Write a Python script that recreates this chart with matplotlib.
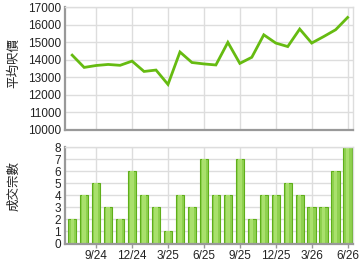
import matplotlib
matplotlib.use("Agg")
import matplotlib.pyplot as plt
import numpy as np

months = ["7/24","8/24","9/24","10/24","11/24","12/24","1/25","2/25","3/25","4/25","5/25","6/25",
          "7/25","8/25","9/25","10/25","11/25","12/25","1/26","2/26","3/26","4/26","5/26","6/26"]
avg_price = [14270, 13570, 13680, 13740, 13690, 13930, 13340, 13420, 12600, 14450, 13850, 13770,
             13710, 15000, 13800, 14150, 15430, 14960, 14760, 15760, 14960, 15330, 15720, 16420]
deals = [2, 4, 5, 3, 2, 6, 4, 3, 1, 4, 3, 7, 4, 4, 7, 2, 4, 4, 5, 4, 3, 3, 6, 8]
tick_labels = ["9/24", "12/24", "3/25", "6/25", "9/25", "12/25", "3/26", "6/26"]

plt.rcParams['font.family'] = ['Liberation Sans', 'DejaVu Sans']
cjk = ['Noto Sans CJK TC', 'DejaVu Sans']

x = np.arange(len(months))
tick_pos = [months.index(t) for t in tick_labels]

fig = plt.figure(figsize=(3.6, 2.7), dpi=100)
W, H = 360, 270
def rect(l, t, r, b):
    return [l / W, 1 - b / H, (r - l) / W, (b - t) / H]

ax1 = fig.add_axes(rect(65, 7.3, 353, 130))
ax2 = fig.add_axes(rect(65, 147.3, 353, 243.5))

grid_c = '#dddddd'
spine_c = '#999999'
for ax in (ax1, ax2):
    ax.set_xlim(-0.6, 23.45)
    ax.set_xticks(tick_pos)
    ax.grid(True, color=grid_c, linewidth=1.0)
    ax.set_axisbelow(True)
    for s in ('top', 'right'):
        ax.spines[s].set_color(grid_c)
        ax.spines[s].set_linewidth(1.0)
    for s in ('left', 'bottom'):
        ax.spines[s].set_color(spine_c)
        ax.spines[s].set_linewidth(1.6)
    ax.tick_params(axis='y', length=0, labelsize=8.5, pad=3, colors='#222222')

ax1.plot(x, avg_price, color='#66bb11', linewidth=2.0, solid_joinstyle='miter')
ax1.set_ylim(10000, 17000)
ax1.set_yticks(range(10000, 17001, 1000))
ax1.tick_params(axis='x', length=0, labelbottom=False)
ax1.set_ylabel('平均呎價', fontsize=9, family=cjk, color='#222222')
ax1.yaxis.set_label_coords((20 - 65) / 288, (130 - 63) / 122.7)

ax2.bar(x, deals, width=0.7, color='#8fd14f', edgecolor='#5fae1a', linewidth=0.8)
ax2.bar(x, deals, width=0.28, color='#a9e06c', linewidth=0)
ax2.set_ylim(0, 8)
ax2.set_yticks(range(0, 9))
ax2.set_xticklabels(tick_labels)
ax2.tick_params(axis='x', length=3, width=1, color=spine_c, labelsize=8.5, pad=2, colors='#222222')
ax2.tick_params(axis='x', colors=spine_c, labelcolor='#222222')
ax2.set_ylabel('成交宗數', fontsize=9, family=cjk, color='#222222')
ax2.yaxis.set_label_coords((20 - 65) / 288, (243.5 - 186) / 96.2)

fig.savefig('out.png', dpi=100)
